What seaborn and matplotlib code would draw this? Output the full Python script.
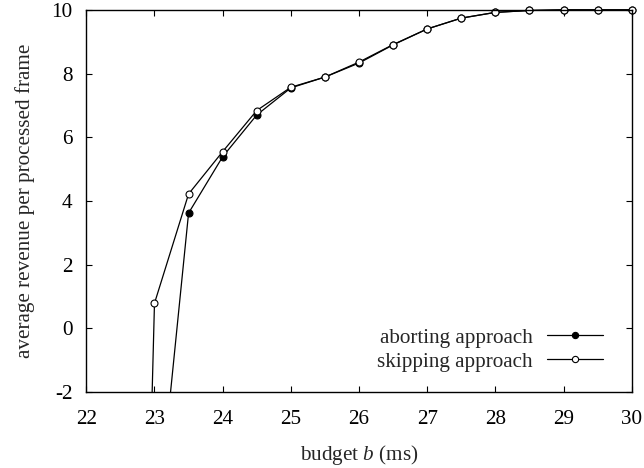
import matplotlib
matplotlib.use("Agg")
import matplotlib.pyplot as plt
from matplotlib.patches import Rectangle
import seaborn as sns
import pandas as pd

budget_abort = [23.0, 23.5, 24.0, 24.5, 25.0, 25.5, 26.0, 26.5, 27.0, 27.5, 28.0, 28.5, 29.0, 29.5, 30.0]
revenue_abort = [-7.0, 3.62, 5.39, 6.70, 7.55, 7.89, 8.33, 8.90, 9.40, 9.74, 9.92, 9.98, 10.0, 10.0, 10.0]

budget_skip = [22.5, 23.0, 23.5, 24.0, 24.5, 25.0, 25.5, 26.0, 26.5, 27.0, 27.5, 28.0, 28.5, 29.0, 29.5, 30.0]
revenue_skip = [-40.0, 0.79, 4.22, 5.55, 6.84, 7.57, 7.89, 8.36, 8.91, 9.40, 9.74, 9.92, 9.98, 10.0, 10.0, 10.0]

x_ticks = [22, 23, 24, 25, 26, 27, 28, 29, 30]
y_ticks = [-2, 0, 2, 4, 6, 8, 10]

sns.set_style("ticks")
plt.rcParams['font.family'] = ['Liberation Serif', 'DejaVu Serif']
plt.rcParams['mathtext.fontset'] = 'custom'
plt.rcParams['mathtext.it'] = 'Liberation Serif:italic'
plt.rcParams['mathtext.rm'] = 'Liberation Serif'
plt.rcParams['axes.unicode_minus'] = False

FS = 15.2
fig = plt.figure(figsize=(6.44, 4.68), dpi=100)
ax = fig.add_axes([0.134, 0.162, 0.847, 0.817])

df_a = pd.DataFrame({"b": budget_abort, "r": revenue_abort})
df_s = pd.DataFrame({"b": budget_skip, "r": revenue_skip})

sns.lineplot(data=df_a, x="b", y="r", ax=ax, color="black", lw=0.9,
             marker="o", markersize=5, markerfacecolor="black",
             markeredgecolor="black", markeredgewidth=0.8,
             label="aborting approach", sort=False)
sns.lineplot(data=df_s, x="b", y="r", ax=ax, color="black", lw=0.9,
             marker="o", markersize=5, markerfacecolor="white",
             markeredgecolor="black", markeredgewidth=0.8,
             label="skipping approach", sort=False)

clip = Rectangle((-0.03, 0.0), 1.06, 1.05, transform=ax.transAxes,
                 facecolor="none", edgecolor="none")
for ln in ax.lines:
    ln.set_clip_path(clip)

ax.set_xlim(22, 30)
ax.set_ylim(-2, 10)
ax.set_xticks(x_ticks)
ax.set_yticks(y_ticks)
ax.tick_params(direction="in", length=4, width=0.8, top=True, right=True,
               labelsize=FS, colors="black")
ax.tick_params(axis="x", pad=13)
ax.tick_params(axis="y", pad=10)
for s in ax.spines.values():
    s.set_linewidth(1.0)
    s.set_color("black")
ax.set_xlabel("budget $b$ (ms)", fontsize=FS, labelpad=10)
ax.set_ylabel("average revenue per processed frame", fontsize=FS, labelpad=12)

leg = ax.legend(loc="lower right", bbox_to_anchor=(0.962, 0.031), frameon=False,
                markerfirst=False, fontsize=FS, handlelength=2.65,
                handletextpad=0.65, labelspacing=0.2, borderaxespad=0)
for h in leg.legend_handles:
    h.set_markersize(4.5)

fig.savefig("out.png", dpi=100)
